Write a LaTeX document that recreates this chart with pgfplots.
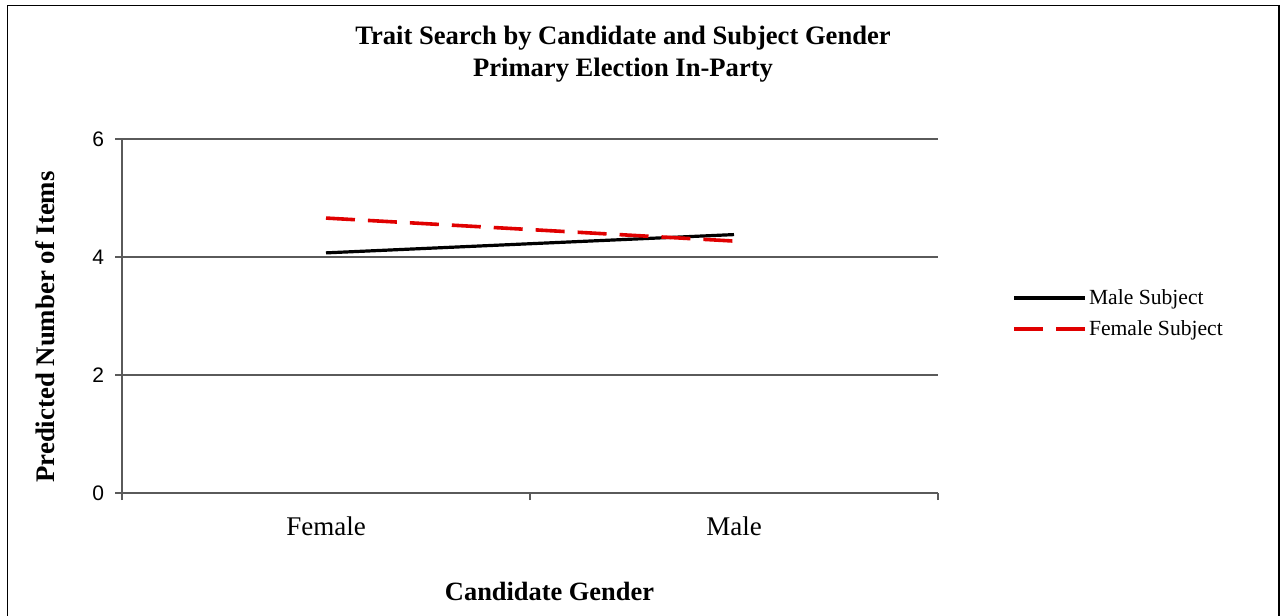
\documentclass[border=0pt]{standalone}
\usepackage{pgfplots}
\pgfplotsset{compat=1.18}
\usepackage{fontspec}
\setmainfont{Liberation Serif}
\newfontfamily\arialfont{Liberation Sans}
\definecolor{myred}{RGB}{224,0,0}
\definecolor{gridgray}{RGB}{90,90,90}
\begin{document}
\begin{tikzpicture}
\useasboundingbox (0pt,0pt) rectangle (640.5pt,-308pt);
\draw[line width=0.7pt] (3.7pt,-2.6pt) rectangle (639.5pt,-312pt);
\begin{axis}[
  at={(61pt,-246.5pt)}, anchor=south west,
  scale only axis, width=408pt, height=177pt,
  xmin=0, xmax=2, ymin=0, ymax=6,
  xtick={0,1,2}, xticklabels={Female,Male}, x tick label as interval,
  ytick={0,2,4,6},
  axis lines=left,
  axis line style={-, gridgray, line width=0.6pt},
  ymajorgrids, grid style={gridgray, line width=0.6pt},
  tick style={gridgray, line width=0.6pt},
  tick align=outside, major tick length=3.5pt,
  xticklabel style={font=\fontsize{13.5}{15}\selectfont, yshift=-5pt},
  yticklabel style={font=\arialfont\fontsize{10.5}{12}\selectfont, xshift=-2pt},
  /pgf/number format/assume math mode=true,
  clip=false,
  legend style={draw=none, fill=none, at={(1.0907,0.507)}, anchor=west,
    inner sep=0pt, row sep=4.5pt,
    font=\fontsize{10.8}{12}\selectfont,
    nodes={inner sep=1pt}},
  legend cell align=left,
  legend image code/.code={\draw[#1] (0pt,0pt) -- (35.5pt,0pt);},
]
\addplot[black, line width=1.6pt] coordinates {(0.5,4.07) (1.5,4.38)};
\addlegendentry{Male Subject}
\addplot[myred, line width=1.8pt, dash pattern=on 14.5pt off 6.5pt] coordinates {(0.5,4.66) (1.5,4.27)};
\addlegendentry{Female Subject}
\end{axis}
\node[font=\bfseries\fontsize{13.3}{16}\selectfont, align=center] at (311.5pt,-27pt)
  {Trait Search by Candidate and Subject Gender\\Primary Election In-Party};
\node[font=\bfseries\fontsize{13.2}{15}\selectfont] at (274.75pt,-295.5pt) {Candidate Gender};
\node[font=\bfseries\fontsize{13.4}{15}\selectfont, rotate=90] at (22.5pt,-163.5pt) {Predicted Number of Items};
\end{tikzpicture}
\end{document}
